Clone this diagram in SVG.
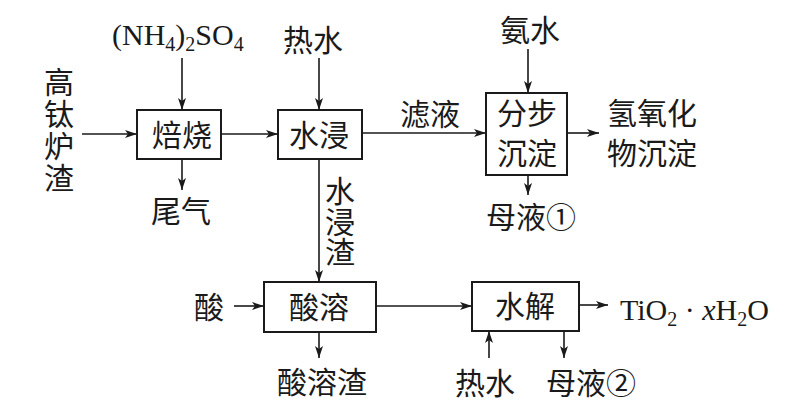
<svg xmlns="http://www.w3.org/2000/svg" width="800" height="404" viewBox="0 0 800 404">
<defs>
<style>
.box{fill:#fff;stroke:#1a1a1a;stroke-width:2}
.ln{fill:none;stroke:#1a1a1a;stroke-width:1.6;marker-end:url(#ah)}
.cn{font-family:"Noto Sans CJK SC","Noto Sans CJK JP",sans-serif;font-size:30px;fill:#1a1a1a}
.lt{font-family:"Liberation Serif","Times New Roman",serif;font-size:30px;fill:#1a1a1a}
.sub{font-size:20px}
.m{text-anchor:middle}
.v{writing-mode:vertical-rl;text-orientation:upright}
</style>
<marker id="ah" viewBox="0 0 12 8" refX="12" refY="4" markerWidth="12" markerHeight="8" markerUnits="userSpaceOnUse" orient="auto">
<path d="M0,0 L12,4 L0,8 L3,4 z" fill="#1a1a1a"/>
</marker>
</defs>
<rect width="800" height="404" fill="#fff"/>

<g id="connectors">
<path class="ln" d="M82,134 H137"/>
<path class="ln" d="M182,58 V110"/>
<path class="ln" d="M182,159 V190"/>
<path class="ln" d="M221,134 H278"/>
<path class="ln" d="M319,58 V110"/>
<path class="ln" d="M362,133 H486"/>
<path class="ln" d="M528,49 V93"/>
<path class="ln" d="M567,133 H599"/>
<path class="ln" d="M528,175 V195"/>
<path class="ln" d="M319,159 V282"/>
<path class="ln" d="M234,306 H264"/>
<path class="ln" d="M376,306 H472"/>
<path class="ln" d="M319,332 V358"/>
<path class="ln" d="M579,305 H608"/>
<path class="ln" d="M489,358 V331"/>
<path class="ln" d="M564,331 V358"/>
</g>

<g id="n-gaotailuzha">
<text class="cn v" x="59" y="67" letter-spacing="2">高钛炉渣</text>
</g>

<g id="n-nh4so4">
<text class="lt" x="112" y="45">(NH<tspan class="sub" dy="6">4</tspan><tspan dy="-6">)</tspan><tspan class="sub" dy="6">2</tspan><tspan dy="-6">SO</tspan><tspan class="sub" dy="6">4</tspan></text>
</g>

<g id="n-beishao">
<rect class="box" x="137" y="110" width="84" height="49"/>
<text class="cn m" x="182" y="146">焙烧</text>
</g>

<g id="n-weiqi">
<text class="cn m" x="181" y="222">尾气</text>
</g>

<g id="n-reshui1">
<text class="cn m" x="313" y="51">热水</text>
</g>

<g id="n-shuijin">
<rect class="box" x="278" y="110" width="84" height="49"/>
<text class="cn m" x="319" y="146">水浸</text>
</g>

<g id="n-shuijinzha">
<text class="cn v" x="340" y="176" font-size="29" letter-spacing="0.5">水浸渣</text>
</g>

<g id="n-lvye">
<text class="cn m" x="430" y="125">滤液</text>
</g>

<g id="n-anshui">
<text class="cn m" x="530" y="41">氨水</text>
</g>

<g id="n-fenbu">
<rect class="box" x="486" y="93" width="81" height="82"/>
<text class="cn m" x="527" y="124">分步</text>
<text class="cn m" x="527" y="164">沉淀</text>
</g>

<g id="n-qingyanghua">
<text class="cn" x="607" y="124">氢氧化</text>
<text class="cn" x="607" y="164">物沉淀</text>
</g>

<g id="n-muye1">
<text class="cn m" x="531" y="228">母液①</text>
</g>

<g id="n-suan">
<text class="cn m" x="209" y="318">酸</text>
</g>

<g id="n-suanrong">
<rect class="box" x="264" y="282" width="112" height="50"/>
<text class="cn m" x="319" y="318">酸溶</text>
</g>

<g id="n-suanrongzha">
<text class="cn m" x="322" y="393">酸溶渣</text>
</g>

<g id="n-shuijie">
<rect class="box" x="472" y="282" width="107" height="49"/>
<text class="cn m" x="525" y="317">水解</text>
</g>

<g id="n-reshui2">
<text class="cn m" x="485" y="394">热水</text>
</g>

<g id="n-muye2">
<text class="cn m" x="591" y="394">母液②</text>
</g>

<g id="n-tio2">
<text class="lt" x="620" y="320">TiO<tspan class="sub" dy="6">2</tspan><tspan dy="-6"> · </tspan><tspan font-style="italic">x</tspan>H<tspan class="sub" dy="6">2</tspan><tspan dy="-6">O</tspan></text>
</g>
</svg>
